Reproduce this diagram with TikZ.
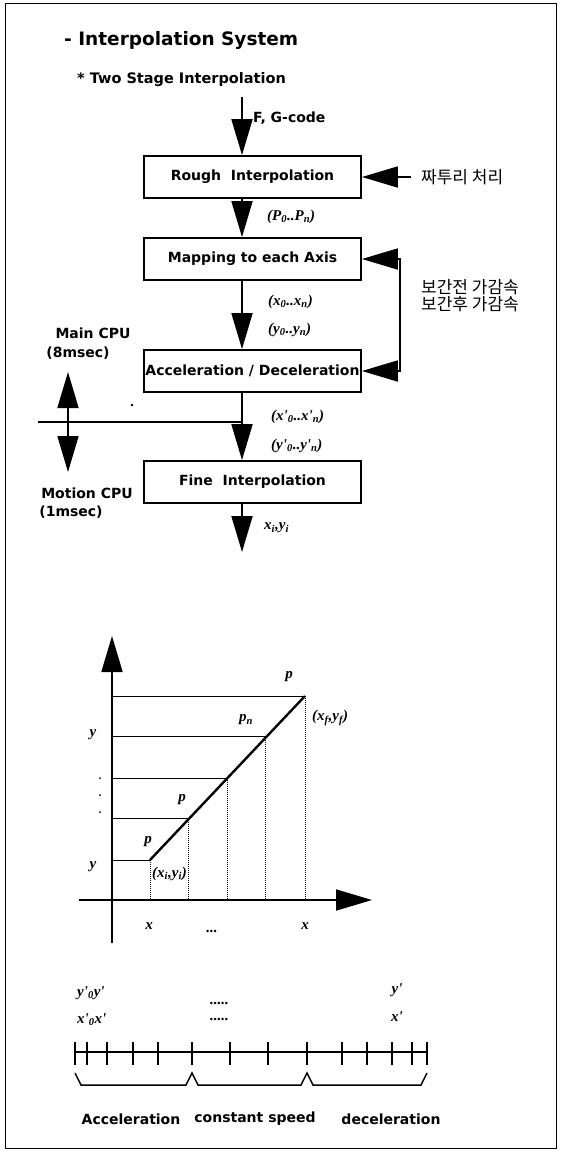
\documentclass[tikz,border=0pt]{standalone}
\usepackage{fontspec}
\setmainfont{DejaVu Sans}
\newfontfamily\kr{Noto Sans CJK KR}
\newfontfamily\ser{Liberation Serif}
\usetikzlibrary{arrows.meta}
\newcommand{\sbs}[1]{\textsubscript{#1}}
\tikzset{
  bigtri/.tip={Triangle[length=36pt,width=21pt]},
  box/.style={draw, line width=1.8pt, minimum width=217pt, minimum height=42pt, inner sep=0pt,
    font=\bfseries\fontsize{14}{16}\selectfont},
  flow/.style={line width=1.8pt, -{bigtri}},
  dflow/.style={line width=1.8pt, {bigtri}-{bigtri}},
  lab/.style={font=\ser\bfseries\itshape\fontsize{15}{17}\selectfont, inner sep=0pt},
  txt/.style={font=\bfseries\fontsize{14}{16}\selectfont, inner sep=0pt},
  krt/.style={font=\kr\fontsize{17}{19}\selectfont, inner sep=0pt, anchor=west},
  hgrid/.style={line width=1pt},
  vgrid/.style={line width=1pt, densely dotted},
}
\begin{document}
\begin{tikzpicture}[x=1pt,y=-1pt]
\useasboundingbox (0,0) rectangle (560,1152);
\draw[line width=1pt] (5,3) rectangle (556,1148);

% titles
\node[anchor=west, inner sep=0pt, font=\bfseries\fontsize{18.5}{20}\selectfont] (title) at (64,40) {- Interpolation System};
\node[anchor=west, inner sep=0pt, font=\bfseries\fontsize{14.5}{16}\selectfont] (subt) at (77,80) {* Two Stage Interpolation};

% boxes
\node[box] (rough) at (252.5,177) {Rough\ \ Interpolation};
\node[box] (map) at (252.5,259) {Mapping to each Axis};
\node[box] (acc) at (252.5,371) {Acceleration / Deceleration};
\node[box] (fine) at (252.5,482) {Fine\ \ Interpolation};

\coordinate (col) at (242,0);
\coordinate (in) at (242,97);
\coordinate (out) at (242,552);

\draw[flow] (in) -- (rough.north -| col);
\node[txt, anchor=west] (fg) at (253,118) {F, G-code};
\draw[flow] (rough.south -| col) -- (map.north -| col);
\node[lab, anchor=west] (pl) at (267,217) {(P\sbs{0}..P\sbs{n})};
\draw[flow] (map.south -| col) -- (acc.north -| col);
\node[lab, anchor=west] (xl1) at (268,302) {(x\sbs{0}..x\sbs{n})};
\node[lab, anchor=west] (yl1) at (268,330) {(y\sbs{0}..y\sbs{n})};
\draw[flow] (acc.south -| col) -- (fine.north -| col);
\node[lab, anchor=west] (xl2) at (271,417) {(x'\sbs{0}..x'\sbs{n})};
\node[lab, anchor=west] (yl2) at (271,446) {(y'\sbs{0}..y'\sbs{n})};
\draw[flow] (fine.south -| col) -- (out);
\node[lab, anchor=west] (xyi) at (264,528) {x\sbs{i},y\sbs{i}};

% right side
\coordinate (kin) at (411,177);
\draw[flow] (kin) -- (rough.east);
\node[krt] (k1) at (421,177) {짜투리 처리};
\draw[dflow] (map.east) -- ++(38,0) |- (acc.east);
\node[krt] (k2) at (421,287) {보간전 가감속};
\node[krt] (k3) at (421,304) {보간후 가감속};

% CPU split
\node[txt] (mcpu) at (93,333) {Main CPU};
\node[txt] (m8) at (78,353) {(8msec)};
\coordinate (cpuT) at (68,372);
\coordinate (cpuB) at (68,472);
\draw[dflow] (cpuT) -- (cpuB);
\coordinate (hl) at (38,422);
\draw[line width=1.4pt] (hl) -- (hl -| col);
\fill (132,405) circle (1.4pt);
\node[txt] (mocpu) at (87,493) {Motion CPU};
\node[txt] (m1) at (71,512) {(1msec)};

% graph
\coordinate (yb) at (112,943);
\coordinate (yt) at (112,636);
\coordinate (xl) at (79,900);
\coordinate (xr) at (372,900);
\draw[flow] (yb) -- (yt);
\draw[flow] (xl) -- (xr);
\coordinate (P0) at (150,860);
\coordinate (P1) at (188,818);
\coordinate (P2) at (227,778);
\coordinate (Pn) at (265,736);
\coordinate (Pf) at (305,696);
\foreach \p in {P0,P1,P2,Pn,Pf}{
  \draw[hgrid] (\p -| yt) -- (\p);
  \draw[vgrid] (\p) -- (\p |- xl);
}
\draw[line width=2.4pt] (P0) -- (Pf);
\node[lab] (lp) at (289,677) {p};
\node[lab] (lpn) at (246,720) {p\sbs{n}};
\node[lab, anchor=west] (lf) at (312,718) {(x\sbs{f},y\sbs{f})};
\node[lab] (ly1) at (93,735) {y};
\node[lab] (ly0) at (93,867) {y};
\node[lab] (lp2) at (182,800) {p};
\node[lab] (lp1) at (148,842) {p};
\node[lab, anchor=west] (li) at (152,874) {(x\sbs{i},y\sbs{i})};
\node[lab] (lx0) at (149,926) {x};
\node[lab] (lxn) at (305,926) {x};
\node[lab, anchor=base] (ldots) at (212,932) {...};
\foreach \yy in {778,795,812} \fill (100,\yy) circle (1pt);

% sample rows
\node[lab, anchor=west] (ry) at (77,993) {y'\sbs{0}y'};
\node[lab, anchor=west] (rx) at (77,1020) {x'\sbs{0}x'};
\node[lab, anchor=base west] (d1) at (210,1004) {.....};
\node[lab, anchor=base west] (d2) at (210,1020) {.....};
\node[lab] (ry2) at (397,990) {y'};
\node[lab] (rx2) at (397,1017) {x'};

% tick line
\coordinate (tl) at (75,1052);
\coordinate (tr) at (427,1052);
\draw[line width=1.3pt] (tl) -- (tr);
\foreach \t in {75,87,107,133,158,192,230,268,307,342,367,392,412,427}
  \draw[line width=1.3pt] (\t,1042) -- (\t,1065);
\draw[line width=1.5pt] (75,1073) -- (81,1085) -- (186,1085) -- (192,1073) -- (198,1085) -- (301,1085) -- (307,1073) -- (313,1085) -- (421,1085) -- (427,1073);
\node[txt] (la) at (131,1119) {Acceleration};
\node[txt] (lc) at (255,1119) {constant speed};
\node[txt] (ld) at (391,1119) {deceleration};
\end{tikzpicture}
\end{document}
